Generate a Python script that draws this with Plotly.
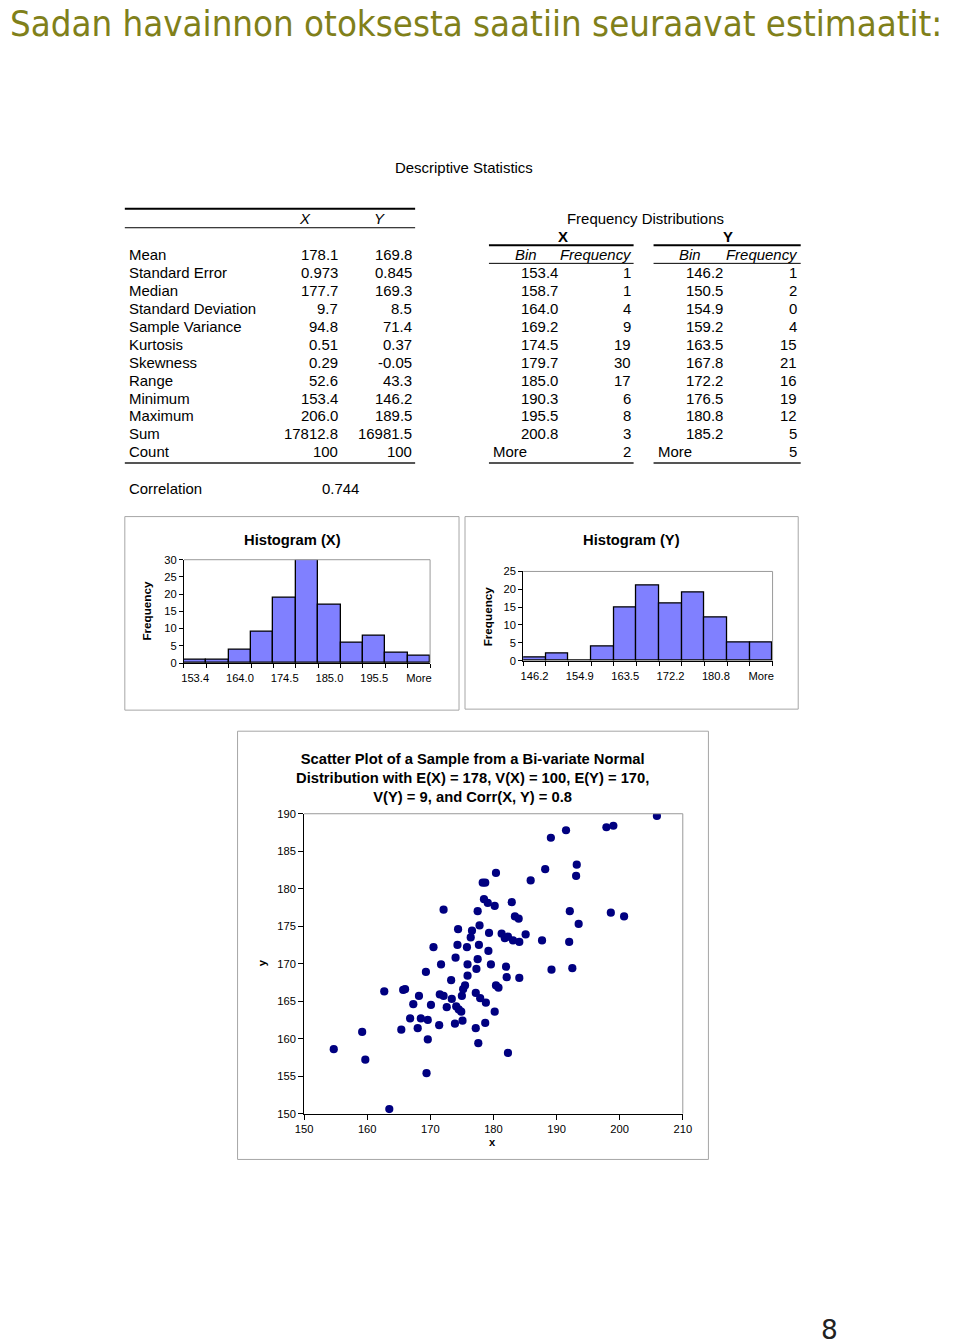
import plotly.graph_objects as go

W, H = 960, 1344
ARIAL = "Liberation Sans, Arial, sans-serif"

# ---------------- data ----------------
page_title = "Sadan havainnon otoksesta saatiin seuraavat estimaatit:"
page_number = "8"

stat_labels = ["Mean", "Standard Error", "Median", "Standard Deviation", "Sample Variance",
               "Kurtosis", "Skewness", "Range", "Minimum", "Maximum", "Sum", "Count"]
stat_x = ["178.1", "0.973", "177.7", "9.7", "94.8", "0.51", "0.29", "52.6", "153.4", "206.0", "17812.8", "100"]
stat_y = ["169.8", "0.845", "169.3", "8.5", "71.4", "0.37", "-0.05", "43.3", "146.2", "189.5", "16981.5", "100"]
correlation = "0.744"

bins_x = ["153.4", "158.7", "164.0", "169.2", "174.5", "179.7", "185.0", "190.3", "195.5", "200.8", "More"]
freq_x = [1, 1, 4, 9, 19, 30, 17, 6, 8, 3, 2]
bins_y = ["146.2", "150.5", "154.9", "159.2", "163.5", "167.8", "172.2", "176.5", "180.8", "185.2", "More"]
freq_y = [1, 2, 0, 4, 15, 21, 16, 19, 12, 5, 5]

scatter_x = [205.9, 197.9, 199.0, 191.5, 189.1, 193.2, 193.1, 188.2, 185.9, 180.4,
             178.3, 178.7, 178.5, 179.1, 180.2, 182.9, 183.4, 184.0, 192.1, 198.6,
             200.7, 193.5, 172.1, 177.5, 174.4, 176.6, 177.8, 179.3, 181.3, 181.8,
             182.3, 183.1, 184.1, 185.1, 187.7, 192.0, 176.4, 170.5, 174.3, 175.8,
             177.7, 179.2, 174.0, 177.5, 171.7, 175.9, 179.6, 177.3, 169.3, 175.9,
             173.3, 175.5, 175.2, 180.4, 180.8, 162.7, 165.7, 166.0, 168.2, 171.5,
             172.1, 175.0, 177.2, 177.9, 173.4, 167.3, 170.1, 172.6, 174.1, 174.5,
             174.9, 178.8, 180.2, 166.8, 168.5, 169.6, 171.4, 173.9, 175.1, 178.7,
             165.4, 168.0, 177.2, 159.2, 169.6, 177.6, 154.7, 159.7, 169.4, 163.5,
             182.0, 189.2, 192.5, 182.1, 184.1, 182.3]
scatter_y = [189.7, 188.2, 188.4, 187.8, 186.8, 183.2, 181.7, 182.6, 181.1, 182.1,
             180.8, 180.8, 178.6, 178.1, 177.7, 178.2, 176.3, 176.0, 177.0, 176.8,
             176.3, 175.3, 177.2, 177.0, 174.6, 174.4, 175.1, 174.1, 174.0, 173.4,
             173.6, 173.1, 172.9, 173.9, 173.1, 172.9, 173.5, 172.2, 172.5, 172.2,
             172.5, 171.7, 170.8, 170.6, 169.9, 169.9, 169.9, 169.3, 168.9, 168.4,
             167.8, 167.1, 166.6, 167.1, 166.8, 166.3, 166.5, 166.6, 165.7, 165.9,
             165.7, 165.7, 166.1, 165.4, 165.3, 164.6, 164.5, 164.2, 164.3, 163.9,
             163.6, 164.8, 163.6, 162.7, 162.7, 162.5, 161.8, 162.0, 162.4, 162.1,
             161.2, 161.4, 161.4, 160.9, 159.9, 159.4, 158.6, 157.2, 155.4, 150.6,
             169.6, 169.2, 169.4, 168.2, 168.1, 158.1]

scatter_title = ("Scatter Plot of a Sample from a Bi-variate Normal<br>"
                 "Distribution with E(X) = 178, V(X) = 100, E(Y) = 170,<br>"
                 "V(Y) = 9, and Corr(X, Y) = 0.8")

# ---------------- page-pixel -> paper helpers ----------------
# (compensates for the page margin / fit-to-window scaling of the capture)
SX, AX = 0.9836, 7.9
SY, AY = 0.9882, 7.9
FS = 1 / SX


def px(x):
    return ((x - AX) / SX) / W


def py(y):
    return 1 - ((y - AY) / SY) / H


annotations = []
shapes = []


def text(x, y, s, size=14.7, anchor="left", bold=False, italic=False,
         color="black", family=ARIAL, vanchor="middle", angle=0):
    if bold:
        s = f"<b>{s}</b>"
    if italic:
        s = f"<i>{s}</i>"
    annotations.append(dict(x=px(x), y=py(y), xref="paper", yref="paper", text=s,
                            showarrow=False, xanchor=anchor, yanchor=vanchor,
                            borderpad=0, textangle=angle,
                            font=dict(size=size * FS, color=color, family=family)))


def hline(x0, x1, y, width=1, color="black"):
    shapes.append(dict(type="line", xref="paper", yref="paper",
                       x0=px(x0), x1=px(x1), y0=py(y), y1=py(y),
                       line=dict(color=color, width=width)))


def box(x0, y0, x1, y1, color="#a6a6a6", width=1):
    shapes.append(dict(type="rect", xref="paper", yref="paper",
                       x0=px(x0), x1=px(x1), y0=py(y0), y1=py(y1),
                       line=dict(color=color, width=width)))


def frame(xa, ya, color="#9a9a9a"):
    # grey top and right border of a plot area
    shapes.append(dict(type="line", xref=f"{xa} domain", yref=f"{ya} domain",
                       x0=0, x1=1, y0=1, y1=1, line=dict(color=color, width=1)))
    shapes.append(dict(type="line", xref=f"{xa} domain", yref=f"{ya} domain",
                       x0=1, x1=1, y0=0, y1=1, line=dict(color=color, width=1)))


# ---------------- page title ----------------
annotations.append(dict(x=0, y=py(25), xref="paper", yref="paper", text=page_title,
                        showarrow=False, xanchor="left", yanchor="middle", borderpad=0,
                        font=dict(size=36.3, color="#80801a",
                                  family="DejaVu Sans Condensed, DejaVu Sans, sans-serif")))
text(830, 1328, page_number, size=26, color="#222222", anchor="center",
     family="DejaVu Sans, sans-serif")

# ---------------- descriptive statistics table ----------------
text(464, 169, "Descriptive Statistics", anchor="center")
hline(124, 415, 210, width=2)
hline(124, 415, 229, width=1)
text(305, 219.5, "X", anchor="center", italic=True)
text(379, 219.5, "Y", anchor="center", italic=True)
row0, dy = 256, 17.85
for i, lab in enumerate(stat_labels):
    yy = row0 + i * dy
    text(127, yy, lab)
    text(338.5, yy, stat_x[i], anchor="right")
    text(412.5, yy, stat_y[i], anchor="right")
hline(124, 415, 463.5, width=2, color="#555555")
text(127, 489.5, "Correlation")
text(359.5, 489.5, correlation, anchor="right")

# ---------------- frequency distributions ----------------
text(646, 219.5, "Frequency Distributions", anchor="center")
text(563, 237.5, "X", anchor="center", bold=True)
text(728.5, 237.5, "Y", anchor="center", bold=True)
for (xl, xr, xbin_c, xbin_r, xfreq_r, bins, freqs) in [
        (489, 634, 526, 559, 632, bins_x, freq_x),
        (654, 801.5, 691, 725, 798.5, bins_y, freq_y)]:
    hline(xl, xr, 246.5, width=2)
    hline(xl, xr, 264.5, width=1)
    text(xbin_c, 256, "Bin", anchor="center", italic=True)
    text(xfreq_r + 1, 256, "Frequency", anchor="right", italic=True)
    for i, (b, f) in enumerate(zip(bins, freqs)):
        yy = row0 + (i + 1) * dy
        if b == "More":
            text(xl + 3, yy, b)
        else:
            text(xbin_r, yy, b, anchor="right")
        text(xfreq_r, yy, str(f), anchor="right")
    hline(xl, xr, 463.5, width=2, color="#555555")

# ---------------- figure ----------------
fig = go.Figure()

bar_style = dict(color="#8080ff", line=dict(color="black", width=1.3))
fig.add_trace(go.Bar(x=list(range(len(bins_x))), y=freq_x, width=1, marker=bar_style,
                     xaxis="x", yaxis="y", showlegend=False))
fig.add_trace(go.Bar(x=list(range(len(bins_y))), y=freq_y, width=1, marker=bar_style,
                     xaxis="x2", yaxis="y2", showlegend=False))
fig.add_trace(go.Scatter(x=scatter_x, y=scatter_y, mode="markers",
                         marker=dict(color="#000080", size=8.2),
                         xaxis="x3", yaxis="y3", showlegend=False))

tickfont = dict(size=11 * FS, color="black", family=ARIAL)


def cat_axis(domain, anchor, labels):
    n = len(labels)
    return dict(domain=domain, anchor=anchor, range=[-0.5, n - 0.5],
                tickmode="array", tickvals=list(range(0, n, 2)),
                ticktext=labels[0::2], ticks="outside", ticklen=5,
                tickcolor="rgba(0,0,0,0)", showline=True, linecolor="black",
                linewidth=1, showgrid=False, zeroline=False, tickfont=tickfont,
                minor=dict(tickmode="array", tickvals=[i - 0.5 for i in range(n + 1)],
                           ticks="outside", ticklen=4, tickcolor="black", showgrid=False),
                fixedrange=True)


def val_axis(domain, anchor, rng, dtick, ticklen=4):
    return dict(domain=domain, anchor=anchor, range=rng, dtick=dtick, tick0=rng[0],
                ticks="outside", ticklen=ticklen, tickcolor="black", showline=True,
                linecolor="black", linewidth=1, showgrid=False, zeroline=False,
                tickfont=tickfont, fixedrange=True)


fig.update_layout(
    xaxis=cat_axis([px(183.3), px(430)], "y", bins_x),
    yaxis=val_axis([py(663), py(560)], "x", [0, 30], 5),
    xaxis2=cat_axis([px(523.3), px(773.3)], "y2", bins_y),
    yaxis2=val_axis([py(660.7), py(571.7)], "x2", [0, 25], 5),
    xaxis3=val_axis([px(303.7), px(683.3)], "y3", [150, 210], 10, 5),
    yaxis3=val_axis([py(1112.3), py(813.3)], "x3", [150, 190], 5, 5),
)

frame("x", "y")
frame("x2", "y2")
frame("x3", "y3")

# chart boxes
box(124, 517, 459, 710)
box(465, 517, 799, 709)
box(237, 731, 709, 1158)

# chart titles / axis titles
text(292, 540.5, "Histogram (X)", size=14.5, anchor="center", bold=True)
text(146, 611, "Frequency", size=11.5, anchor="center", bold=True, angle=-90)
text(632, 540.5, "Histogram (Y)", size=14.5, anchor="center", bold=True)
text(487.5, 616, "Frequency", size=11.5, anchor="center", bold=True, angle=-90)
text(473, 778, scatter_title, size=14.5, anchor="center", bold=True)
text(261, 962, "y", size=11, anchor="center", bold=True, angle=-90)
text(493, 1141, "x", size=11, anchor="center", bold=True)

fig.update_layout(
    width=W, height=H, margin=dict(l=0, r=0, t=0, b=0),
    paper_bgcolor="white", plot_bgcolor="white",
    bargap=0, showlegend=False,
    annotations=annotations, shapes=shapes,
    font=dict(family=ARIAL, color="black"),
)

fig.write_html("out.html", config={"displayModeBar": False},
               post_script="document.body.style.margin='0';"
                           "document.body.style.overflow='hidden';"
                           "document.documentElement.style.overflow='hidden';")
